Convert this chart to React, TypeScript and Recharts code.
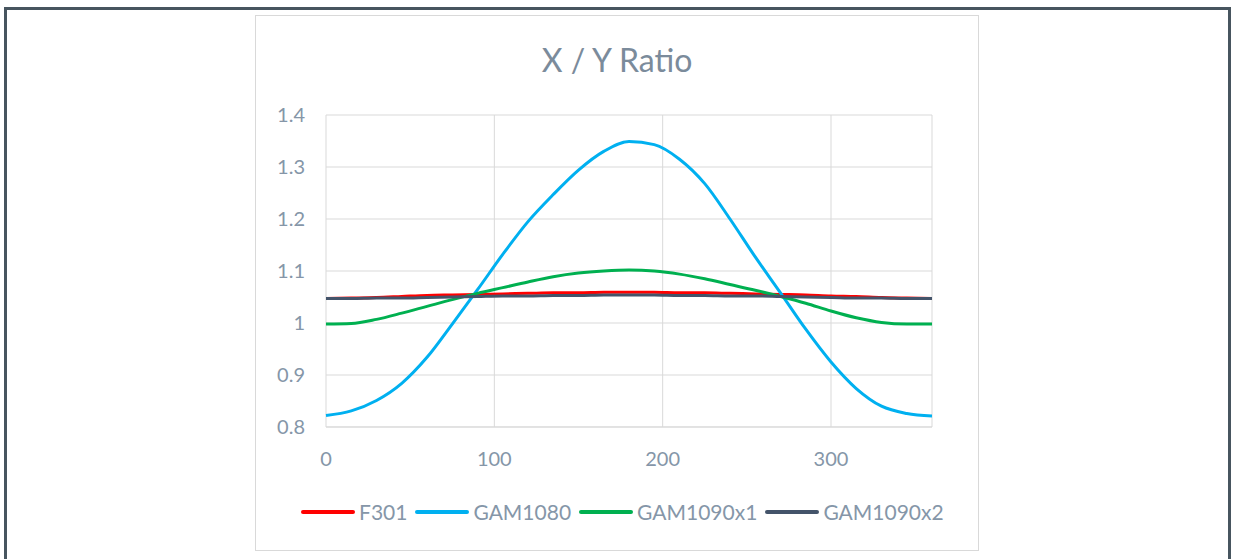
import { LineChart, Line, XAxis, YAxis, CartesianGrid } from 'recharts';

// angle (deg) on the x axis
const angles = [0, 15, 30, 45, 60, 75, 90, 105, 120, 135, 150, 165, 180, 195, 210, 225, 240, 255, 270, 285, 300, 315, 330, 345, 360];

const f301 = [1.047, 1.048, 1.049, 1.051, 1.053, 1.054, 1.055, 1.056, 1.057, 1.058, 1.058, 1.059, 1.059, 1.059, 1.058, 1.058, 1.057, 1.056, 1.055, 1.054, 1.052, 1.051, 1.049, 1.048, 1.047];
const gam1080 = [0.822, 0.831, 0.851, 0.884, 0.934, 0.998, 1.064, 1.132, 1.195, 1.247, 1.294, 1.33, 1.349, 1.343, 1.315, 1.268, 1.2, 1.127, 1.058, 0.988, 0.925, 0.874, 0.84, 0.826, 0.821];
const gam1090x1 = [0.998, 0.999, 1.007, 1.019, 1.032, 1.045, 1.057, 1.068, 1.079, 1.089, 1.096, 1.1, 1.102, 1.1, 1.094, 1.085, 1.074, 1.063, 1.051, 1.038, 1.023, 1.01, 1.001, 0.998, 0.998];
const gam1090x2 = [1.047, 1.047, 1.048, 1.048, 1.049, 1.05, 1.051, 1.052, 1.052, 1.053, 1.053, 1.054, 1.054, 1.054, 1.053, 1.053, 1.052, 1.052, 1.051, 1.05, 1.049, 1.048, 1.048, 1.047, 1.047];

const xTicks = [0, 100, 200, 300];
const yTicks = [0.8, 0.9, 1.0, 1.1, 1.2, 1.3, 1.4];

const series = [
    { key: 'F301', values: f301, color: '#ff0000' },
    { key: 'GAM1080', values: gam1080, color: '#00b0f0' },
    { key: 'GAM1090x1', values: gam1090x1, color: '#00b050' },
    { key: 'GAM1090x2', values: gam1090x2, color: '#44546a' },
];

const data = angles.map((a, i) => {
    const row: Record<string, number> = { angle: a };
    series.forEach(s => { row[s.key] = s.values[i]; });
    return row;
});

const FONT = 'Lato, "Open Sans", sans-serif';
const TEXT = '#8596a8';

export default function App() {
    return (
        <div style={{ position: 'absolute', left: 0, top: 0, width: 1235, height: 559, overflow: 'hidden', background: '#fff', fontFamily: FONT }}>
            {/* dark outer frame */}
            <div style={{ position: 'absolute', left: 4, top: 7, width: 1221, height: 600, border: '3px solid #47555f', borderBottom: 'none' }} />
            {/* chart box */}
            <div style={{ position: 'absolute', left: 255, top: 15, width: 722, height: 534, border: '1px solid #d9d9d9', background: '#fff' }}>
                <div style={{ position: 'absolute', left: 0, top: 28, width: 722, textAlign: 'center', fontSize: 32, lineHeight: '32px', color: '#7b8b9b' }}>
                    X / Y Ratio
                </div>
                <LineChart width={722} height={534} data={data} margin={{ top: 99, right: 46, left: 0, bottom: 83 }}>
                    <CartesianGrid stroke="#d9d9d9" strokeWidth={1} />
                    <XAxis
                        dataKey="angle"
                        type="number"
                        domain={[0, 360]}
                        ticks={xTicks}
                        height={40}
                        tickLine={false}
                        tickSize={0}
                        tickMargin={25}
                        axisLine={{ stroke: '#d9d9d9' }}
                        tick={{ fill: TEXT, fontSize: 20, fontFamily: FONT }}
                    />
                    <YAxis
                        type="number"
                        domain={[0.8, 1.4]}
                        ticks={yTicks}
                        width={70}
                        tickLine={false}
                        axisLine={false}
                        tickSize={0}
                        tickMargin={21}
                        tickFormatter={(v: number) => String(v)}
                        tick={{ fill: TEXT, fontSize: 20, fontFamily: FONT }}
                    />
                    {series.map(s => (
                        <Line
                            key={s.key}
                            type="monotone"
                            dataKey={s.key}
                            stroke={s.color}
                            strokeWidth={3}
                            dot={false}
                            isAnimationActive={false}
                        />
                    ))}
                </LineChart>
                <div style={{ position: 'absolute', left: 45, top: 484, display: 'flex', alignItems: 'center', fontSize: 21, color: TEXT, lineHeight: '24px' }}>
                    {series.map(s => (
                        <div key={s.key} style={{ display: 'flex', alignItems: 'center', marginRight: 8 }}>
                            <div style={{ width: 54, height: 4, background: s.color, marginRight: 4, borderRadius: 2 }} />
                            <span>{s.key}</span>
                        </div>
                    ))}
                </div>
            </div>
        </div>
    );
}
